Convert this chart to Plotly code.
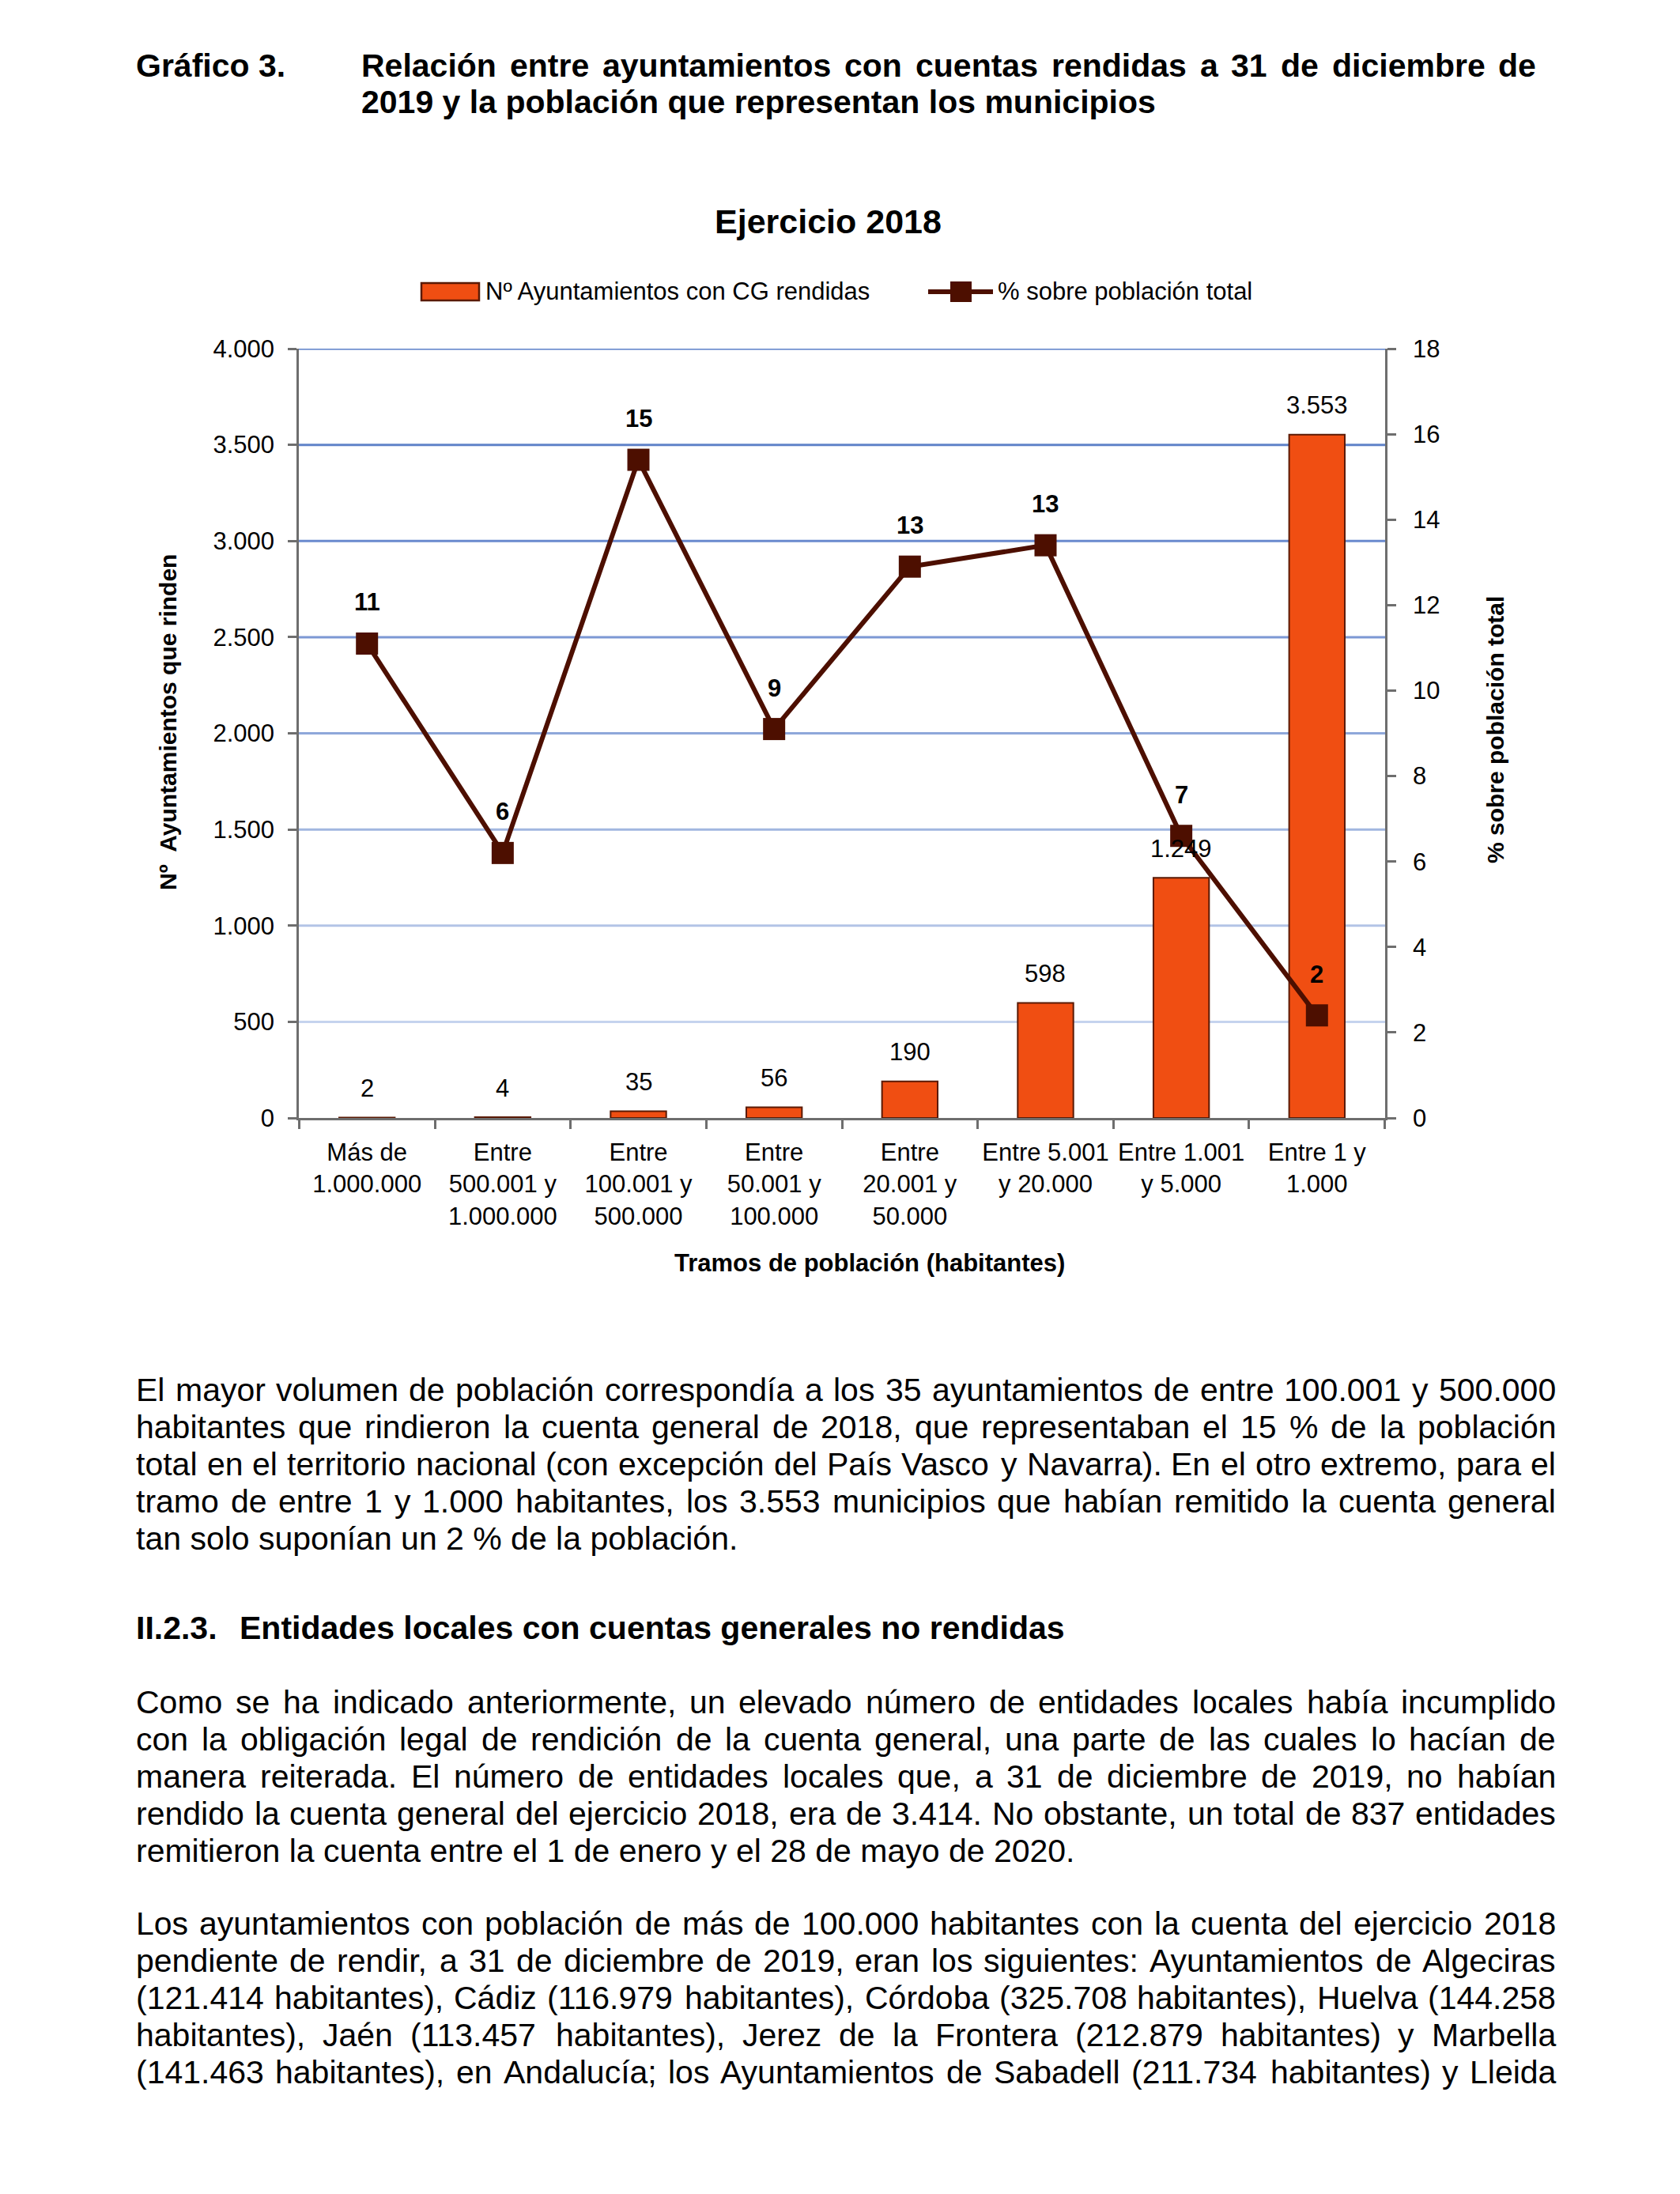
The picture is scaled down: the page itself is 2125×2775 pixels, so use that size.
import plotly.graph_objects as go

# ---------------- data ----------------
categories = [
    "Más de<br>1.000.000",
    "Entre<br>500.001 y<br>1.000.000",
    "Entre<br>100.001 y<br>500.000",
    "Entre<br>50.001 y<br>100.000",
    "Entre<br>20.001 y<br>50.000",
    "Entre 5.001<br>y 20.000",
    "Entre 1.001<br>y 5.000",
    "Entre 1 y<br>1.000",
]
ayuntamientos = [2, 4, 35, 56, 190, 598, 1249, 3553]
pct_poblacion = [11.1, 6.2, 15.4, 9.1, 12.9, 13.4, 6.6, 2.4]
left_ticks = [0, 500, 1000, 1500, 2000, 2500, 3000, 3500, 4000]
right_ticks = [0, 2, 4, 6, 8, 10, 12, 14, 16, 18]

chart_title = "Ejercicio 2018"
series_bar_name = "Nº Ayuntamientos con CG rendidas"
series_line_name = "% sobre población total"
x_title = "Tramos de población (habitantes)"
y_title = "Nº  Ayuntamientos que rinden"
y2_title = "% sobre población total"

page_label = "Gráfico 3."
page_title_lines = [
    "Relación entre ayuntamientos con cuentas rendidas a 31 de diciembre de",
    "2019 y la población que representan los municipios",
]
para1 = [
    "El mayor volumen de población correspondía a los 35 ayuntamientos de entre 100.001 y 500.000",
    "habitantes que rindieron la cuenta general de 2018, que representaban el 15 % de la población",
    "total en el territorio nacional (con excepción del País Vasco y Navarra). En el otro extremo, para el",
    "tramo de entre 1 y 1.000 habitantes, los 3.553 municipios que habían remitido la cuenta general",
    "tan solo suponían un 2 % de la población.",
]
heading_num = "II.2.3."
heading_text = "Entidades locales con cuentas generales no rendidas"
para2 = [
    "Como se ha indicado anteriormente, un elevado número de entidades locales había incumplido",
    "con la obligación legal de rendición de la cuenta general, una parte de las cuales lo hacían de",
    "manera reiterada. El número de entidades locales que, a 31 de diciembre de 2019, no habían",
    "rendido la cuenta general del ejercicio 2018, era de 3.414. No obstante, un total de 837 entidades",
    "remitieron la cuenta entre el 1 de enero y el 28 de mayo de 2020.",
]
para3 = [
    "Los ayuntamientos con población de más de 100.000 habitantes con la cuenta del ejercicio 2018",
    "pendiente de rendir, a 31 de diciembre de 2019, eran los siguientes: Ayuntamientos de Algeciras",
    "(121.414 habitantes), Cádiz (116.979 habitantes), Córdoba (325.708 habitantes), Huelva (144.258",
    "habitantes), Jaén (113.457 habitantes), Jerez de la Frontera (212.879 habitantes) y Marbella",
    "(141.463 habitantes), en Andalucía; los Ayuntamientos de Sabadell (211.734 habitantes) y Lleida",
]

# ---------------- style ----------------
FONT = "Liberation Sans, Arial, Helvetica, sans-serif"
BAR = "#F04E12"
BAR_LINE = "#5A1A05"
LINE = "#4D0F00"
AXIS = "#6E6E6E"
PAGE_W, PAGE_H = 2125, 2775
OFF = 8                      # default body margin of the html page
W, H = PAGE_W - 2 * OFF, PAGE_H - 2 * OFF
L, R, T, B = 378, 1752, 441, 1414  # plot area in page pixels
CHART_FS = 31
PAGE_FS = 41


def px(x):
    return (x - L) / (R - L)


def py(y):
    return (B - y) / (B - T)


def fmt(v):
    return f"{v:,}".replace(",", ".")


# Arial / Liberation Sans advance widths (1/1000 em)
REG = {' ': 278, '%': 889, '(': 333, ')': 333, ',': 278, '.': 278, ':': 278, ';': 278, 'º': 365}
REG.update({d: 556 for d in "0123456789"})
REG.update(dict(zip("ABCDEFGHIJKLMNOPQRSTUVWXYZ",
                    [667, 667, 722, 722, 667, 611, 778, 722, 278, 500, 667, 556, 833, 722, 778, 667,
                     778, 722, 667, 611, 722, 667, 944, 667, 667, 611])))
REG.update(dict(zip("abcdefghijklmnopqrstuvwxyz",
                    [556, 556, 500, 556, 556, 278, 556, 556, 222, 222, 500, 222, 833, 556, 556, 556,
                     556, 333, 500, 278, 556, 500, 722, 500, 500, 500])))
REG.update({'á': 556, 'é': 556, 'í': 278, 'ó': 556, 'ú': 556, 'ñ': 556, 'Á': 667, 'Ó': 778, 'É': 667})
BOLD = dict(REG)
BOLD.update(dict(zip("ABCDEFGHIJKLMNOPQRSTUVWXYZ",
                     [722, 722, 722, 722, 667, 611, 778, 722, 278, 556, 722, 611, 833, 722, 778, 667,
                      778, 722, 667, 611, 722, 667, 944, 667, 667, 611])))
BOLD.update(dict(zip("abcdefghijklmnopqrstuvwxyz",
                     [556, 611, 556, 611, 556, 333, 611, 611, 278, 278, 556, 278, 889, 611, 611, 611,
                      611, 389, 556, 333, 611, 556, 778, 556, 556, 500])))
BOLD.update({'ó': 611, 'ú': 611, 'ñ': 611})


def tw(s, size, bold=False):
    tbl = BOLD if bold else REG
    return sum(tbl.get(c, 556) for c in s) / 1000.0 * size


annotations = []


def text_ann(text, x, y, size, bold=False, xanchor="left", angle=0):
    annotations.append(dict(
        text=f"<b>{text}</b>" if bold else text,
        x=px(x), y=py(y), xref="paper", yref="paper",
        xanchor=xanchor, yanchor="middle", showarrow=False,
        textangle=angle, borderpad=0, borderwidth=0,
        font=dict(family=FONT, size=size, color="black"),
    ))


def line_ann(text, x0, y, size, bold=False, x1=None):
    if x1 is None:
        text_ann(text, x0, y, size, bold)
        return
    words = text.split(" ")
    widths = [tw(w, size, bold) for w in words]
    gap = (x1 - x0 - sum(widths)) / (len(words) - 1)
    x = x0
    for w, wd in zip(words, widths):
        text_ann(w, x, y, size, bold)
        x += wd + gap


# ---------------- figure ----------------
fig = go.Figure()
fig.add_trace(go.Bar(
    x=categories, y=ayuntamientos, name=series_bar_name,
    marker=dict(color=BAR, line=dict(color=BAR_LINE, width=2)),
    yaxis="y", showlegend=False,
))
fig.add_trace(go.Scatter(
    x=categories, y=pct_poblacion, name=series_line_name,
    mode="lines+markers", yaxis="y2", cliponaxis=False,
    line=dict(color=LINE, width=6),
    marker=dict(symbol="square", size=28, color=LINE),
    showlegend=False,
))

# value labels
for c, v in zip(categories, ayuntamientos):
    annotations.append(dict(x=c, y=v, xref="x", yref="y", text=fmt(v), showarrow=False,
                            yshift=37, yanchor="middle",
                            font=dict(family=FONT, size=CHART_FS, color="black")))
for c, v in zip(categories, pct_poblacion):
    annotations.append(dict(x=c, y=v, xref="x", yref="y2", text=f"<b>{round(v)}</b>",
                            showarrow=False, yshift=52, yanchor="middle",
                            font=dict(family=FONT, size=CHART_FS, color="black")))

# gridlines (shaded from dark to light blue toward the bottom)
grid_cols = ["#C5D3EE", "#B3C4E6", "#A1B6E0", "#8EA7DA", "#7C98D4", "#6A8ACE", "#6083C9", "#5B7FC8"]
shapes = []
for v, col in zip(left_ticks[1:], grid_cols):
    shapes.append(dict(type="line", xref="paper", yref="y", x0=0, x1=1, y0=v, y1=v,
                       line=dict(color=col, width=3), layer="below"))

# legend drawn by hand
leg_y = 369
shapes.append(dict(type="rect", xref="paper", yref="paper", x0=px(533), x1=px(606),
                   y0=py(leg_y + 11), y1=py(leg_y - 11), fillcolor=BAR,
                   line=dict(color=BAR_LINE, width=2.5)))
text_ann(series_bar_name, 614, leg_y, CHART_FS)
shapes.append(dict(type="line", xref="paper", yref="paper", x0=px(1174), x1=px(1256),
                   y0=py(leg_y), y1=py(leg_y), line=dict(color=LINE, width=6)))
shapes.append(dict(type="rect", xref="paper", yref="paper", x0=px(1202), x1=px(1229),
                   y0=py(leg_y + 13), y1=py(leg_y - 13), fillcolor=LINE, line=dict(width=0)))
text_ann(series_line_name, 1262, leg_y, CHART_FS)

# chart and axis titles
text_ann(chart_title, 1047, 280, 43, bold=True, xanchor="center")
text_ann(x_title, 1100, 1597, CHART_FS, bold=True, xanchor="center")
text_ann(y_title, 212, 914, 30, bold=True, xanchor="center", angle=-90)
text_ann(y2_title, 1891, 923, 30, bold=True, xanchor="center", angle=-90)

# page text
text_ann(page_label, 172, 83, PAGE_FS, bold=True)
line_ann(page_title_lines[0], 457, 83, PAGE_FS, True, 1943)
line_ann(page_title_lines[1], 457, 129, PAGE_FS, True)

LX, RX = 172, 1968
LS = 47
for i, ln in enumerate(para1):
    line_ann(ln, LX, 1758 + i * LS, PAGE_FS, False, None if i == len(para1) - 1 else RX)
text_ann(heading_num, LX, 2059, PAGE_FS, bold=True)
text_ann(heading_text, 303, 2059, PAGE_FS, bold=True)
for i, ln in enumerate(para2):
    line_ann(ln, LX, 2153 + i * LS, PAGE_FS, False, None if i == len(para2) - 1 else RX)
for i, ln in enumerate(para3):
    line_ann(ln, LX, 2433 + i * LS, PAGE_FS, False, RX)

axis_common = dict(showline=True, linecolor=AXIS, linewidth=2.5, ticks="outside", ticklen=11,
                   tickwidth=2.5, tickcolor=AXIS, showgrid=False, zeroline=False,
                   tickfont=dict(family=FONT, size=CHART_FS, color="black"))

fig.update_layout(
    width=W, height=H,
    margin=dict(l=L - OFF, r=W - (R - OFF), t=T - OFF, b=H - (B - OFF), pad=0),
    paper_bgcolor="white", plot_bgcolor="white",
    separators=",.",
    font=dict(family=FONT, size=CHART_FS, color="black"),
    bargap=0.59, showlegend=False,
    xaxis=dict(type="category", tickson="boundaries", ticklabelstandoff=14, **axis_common),
    yaxis=dict(range=[0, 4000], tickvals=left_ticks, tickformat=",d", ticklabelstandoff=11,
               **axis_common),
    yaxis2=dict(range=[0, 18], tickvals=right_ticks, overlaying="y", side="right",
                ticklabelstandoff=15, **axis_common),
    annotations=annotations,
    shapes=shapes,
)

fig.write_html("out.html")
